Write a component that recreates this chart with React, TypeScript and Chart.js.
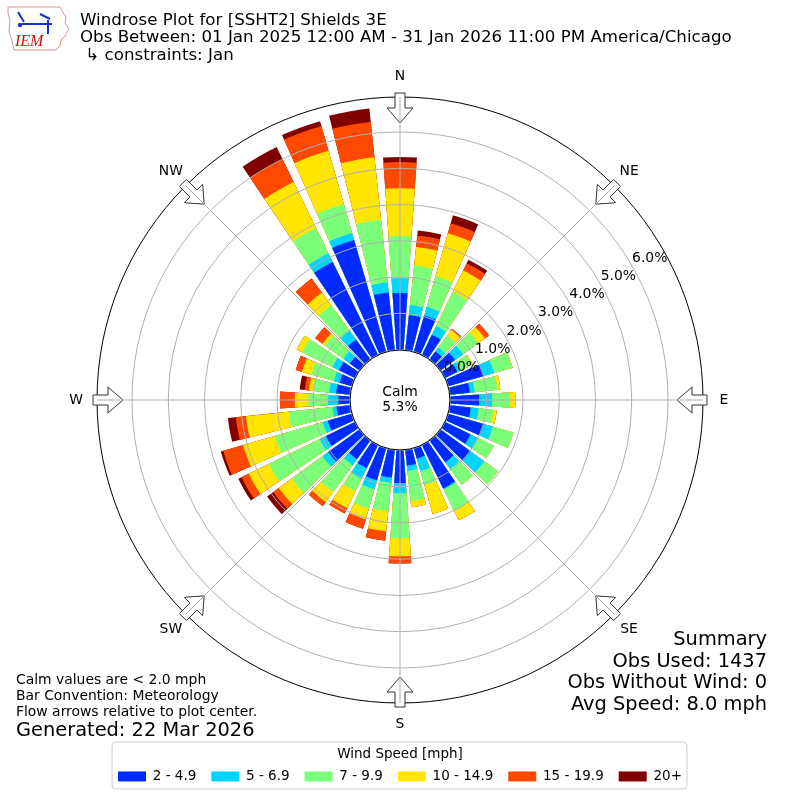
import React, { useEffect, useRef } from 'react';
import { Chart, registerables } from 'chart.js';

Chart.register(...registerables);

const FONT = '"DejaVu Sans", sans-serif';

// Direction of each bar (degrees, meteorological convention)
const directions = [0, 10, 20, 30, 40, 50, 60, 70, 80, 90, 100, 110, 120, 130, 140, 150, 160, 170,
  180, 190, 200, 210, 220, 230, 240, 250, 260, 270, 280, 290, 300, 310, 320, 330, 340, 350];

const speedBins = ['2 - 4.9', '5 - 6.9', '7 - 9.9', '10 - 14.9', '15 - 19.9', '20+'];
const binColors = ['#002aff', '#00d4ff', '#7bff7b', '#ffe500', '#ff4900', '#800000'];

// Percent of observations per direction, per speed bin
const pct2to5 = [1.56, 0.96, 1.03, 0.61, 0.26, 0.48, 0.37, 1.01, 0.54, 0.79, 0.57, 1.01, 0.77, 1.01, 0.73, 1.32, 0.29, 0.43,
  0.90, 0.76, 0.91, 0.70, 0.63, 1.05, 0.88, 0.68, 0.37, 0.31, 0.38, 0.34, 0.48, 0.32, 0.67, 2.84, 3.20, 1.59];
const pct5to7 = [0.41, 0.28, 0.25, 0.27, 0.14, 0.28, 0.11, 0.30, 0.14, 0.36, 0.22, 0.26, 0.23, 0.47, 0.23, 0.03, 0.36, 0.14,
  0.28, 0.14, 0.26, 0.32, 0.20, 0.20, 0.19, 0.14, 0.11, 0.28, 0.19, 0.17, 0.20, 0.22, 0.30, 0.27, 0.20, 0.28];
const pct7to10 = [1.16, 1.10, 0.88, 1.05, 0.41, 0.52, 0.33, 0.52, 0.63, 0.50, 0.40, 0.59, 0.48, 0.47, 0.54, 0.65, 0.40, 0.84,
  1.24, 0.79, 0.55, 0.39, 0.91, 1.05, 1.56, 1.38, 1.21, 0.55, 0.45, 0.64, 0.93, 0.63, 0.87, 0.78, 0.83, 1.74];
const pct10to15 = [1.32, 0.51, 1.23, 0.65, 0.19, 0.22, 0.03, 0.01, 0.08, 0.14, 0.10, 0.00, 0.00, 0.00, 0.00, 0.30, 0.83, 0.17,
  0.50, 0.56, 0.31, 0.52, 0.35, 0.44, 0.62, 0.91, 1.19, 0.37, 0.11, 0.27, 0.17, 0.08, 0.43, 1.41, 1.53, 1.73];
const pct15to20 = [0.72, 0.32, 0.29, 0.22, 0.04, 0.14, 0.00, 0.00, 0.00, 0.00, 0.00, 0.00, 0.00, 0.00, 0.00, 0.00, 0.00, 0.00,
  0.19, 0.26, 0.27, 0.16, 0.14, 0.19, 0.22, 0.57, 0.28, 0.41, 0.12, 0.18, 0.00, 0.25, 0.48, 0.70, 0.71, 0.98];
const pct20plus = [0.14, 0.14, 0.23, 0.11, 0.00, 0.00, 0.00, 0.00, 0.00, 0.00, 0.00, 0.00, 0.00, 0.00, 0.00, 0.00, 0.00, 0.00,
  0.01, 0.00, 0.00, 0.00, 0.00, 0.21, 0.10, 0.07, 0.22, 0.00, 0.14, 0.00, 0.00, 0.00, 0.00, 0.37, 0.14, 0.37];

const binValues = [pct2to5, pct5to7, pct7to10, pct10to15, pct15to20, pct20plus];

const radialTicks = [0, 1, 2, 3, 4, 5, 6];
const compassLabels = ['N', 'NE', 'E', 'SE', 'S', 'SW', 'W', 'NW'];
const calmPercent = 5.3;

const titleLines = [
  'Windrose Plot for [SSHT2] Shields 3E',
  'Obs Between: 01 Jan 2025 12:00 AM - 31 Jan 2026 11:00 PM America/Chicago',
  ' \u21b3 constraints: Jan',
];
const footLines = ['Calm values are < 2.0 mph', 'Bar Convention: Meteorology', 'Flow arrows relative to plot center.'];
const generatedText = 'Generated: 22 Mar 2026';
const summaryLines = ['Summary', 'Obs Used: 1437', 'Obs Without Wind: 0', 'Avg Speed: 8.0 mph'];

const BAR_ANGLE = 8;
const GAP_ANGLE = 2;
const R_MIN = -1.393;
const R_MAX = 6.966;

const decorPlugin = {
  id: 'windroseDecor',
  afterDraw(chart: any) {
    const ctx = chart.ctx as CanvasRenderingContext2D;
    const s = chart.scales.r;
    const cx = s.xCenter;
    const cy = s.yCenter;
    const R = s.drawingArea;
    const rad = (d: number) => (d * Math.PI) / 180;
    ctx.save();

    // flow arrows
    for (let i = 0; i < 8; i++) {
      const th = rad(i * 45);
      const ux = Math.sin(th), uy = -Math.cos(th);
      const px = Math.cos(th), py = Math.sin(th);
      const pt = (r: number, w: number) => [cx + ux * r + px * w, cy + uy * r + py * w];
      const r1 = R + 4, r2 = R - 11, r3 = R - 26;
      const pts = [pt(r1, 5), pt(r2, 5), pt(r2, 13), pt(r3, 0), pt(r2, -13), pt(r2, -5), pt(r1, -5)];
      ctx.beginPath();
      pts.forEach((p, k) => (k === 0 ? ctx.moveTo(p[0], p[1]) : ctx.lineTo(p[0], p[1])));
      ctx.closePath();
      ctx.fillStyle = '#ffffff';
      ctx.fill();
      ctx.strokeStyle = '#333333';
      ctx.lineWidth = 1;
      ctx.stroke();
    }

    // spokes
    ctx.strokeStyle = '#b0b0b0';
    ctx.lineWidth = 1;
    for (let i = 0; i < 8; i++) {
      const th = rad(i * 45);
      ctx.beginPath();
      ctx.moveTo(cx, cy);
      ctx.lineTo(cx + Math.sin(th) * R, cy - Math.cos(th) * R);
      ctx.stroke();
    }

    // calm circle
    const r0 = s.getDistanceFromCenterForValue(0) - 0.5;
    ctx.beginPath();
    ctx.arc(cx, cy, r0, 0, Math.PI * 2);
    ctx.fillStyle = '#ffffff';
    ctx.fill();
    ctx.strokeStyle = '#000000';
    ctx.lineWidth = 1;
    ctx.stroke();
    ctx.fillStyle = '#000000';
    ctx.font = `13.9px ${FONT}`;
    ctx.textAlign = 'center';
    ctx.textBaseline = 'middle';
    ctx.fillText('Calm', cx, cy - 8);
    ctx.fillText(`${calmPercent.toFixed(1)}%`, cx, cy + 7.5);

    // radial tick labels
    ctx.textAlign = 'left';
    const la = rad(60);
    radialTicks.forEach((v) => {
      const r = s.getDistanceFromCenterForValue(v);
      const x = cx + Math.sin(la) * r;
      const y = cy - Math.cos(la) * r;
      ctx.fillText(`${v.toFixed(1)}%`, x, y - 7.5);
    });

    // compass labels
    ctx.textAlign = 'center';
    compassLabels.forEach((lab, i) => {
      const th = rad(i * 45);
      const r = R + 21;
      ctx.fillText(lab, cx + Math.sin(th) * r, cy - Math.cos(th) * r);
    });

    // title
    ctx.textAlign = 'left';
    ctx.font = `16.67px ${FONT}`;
    titleLines.forEach((t, i) => ctx.fillText(t, 80, 20.5 + i * 17.5));

    // footnotes
    ctx.font = `13.9px ${FONT}`;
    footLines.forEach((t, i) => ctx.fillText(t, 16, 680 + i * 16));
    ctx.font = `19.4px ${FONT}`;
    ctx.fillText(generatedText, 16, 731);

    // summary
    ctx.textAlign = 'right';
    summaryLines.forEach((t, i) => ctx.fillText(t, 767, 640 + i * 21.7));

    // logo
    ctx.beginPath();
    const iowa = [[8, 7], [60, 7], [62, 11], [66, 17], [65, 23], [69, 29], [65, 36], [61, 40], [60, 46], [56, 50], [14, 50], [12, 41], [9, 31], [10, 21], [8, 13]];
    iowa.forEach((p, k) => (k === 0 ? ctx.moveTo(p[0], p[1]) : ctx.lineTo(p[0], p[1])));
    ctx.closePath();
    ctx.strokeStyle = '#e09090';
    ctx.lineWidth = 1;
    ctx.stroke();
    ctx.strokeStyle = '#1a2fd0';
    ctx.lineWidth = 2;
    ctx.beginPath();
    ctx.moveTo(22, 24); ctx.lineTo(52, 24);
    ctx.moveTo(18, 12); ctx.lineTo(24, 22);
    ctx.moveTo(48, 20); ctx.lineTo(48, 34);
    ctx.moveTo(40, 14); ctx.lineTo(50, 19);
    ctx.stroke();
    ctx.fillStyle = '#1a2fd0';
    ctx.beginPath();
    ctx.arc(20, 25, 2.2, 0, Math.PI * 2);
    ctx.fill();
    ctx.fillStyle = '#d01010';
    ctx.font = `italic 16px "Liberation Serif", serif`;
    ctx.textAlign = 'left';
    ctx.textBaseline = 'alphabetic';
    ctx.fillText('IEM', 15, 46);

    // legend frame
    const lg = chart.legend;
    if (lg && lg.lineWidths) {
      const pad = 15;
      const lw = lg.lineWidths[0];
      const x0 = (lg.left + pad + lg.right - lw) / 2;
      const x1 = x0 + lw - pad;
      const T = lg.top + 39;
      const B = lg.top + 86;
      const L = x0 - 6, Rr = x1 + 5;
      ctx.beginPath();
      ctx.roundRect(L, T, Rr - L, B - T, 4);
      ctx.strokeStyle = '#cccccc';
      ctx.lineWidth = 1;
      ctx.stroke();
    }
    ctx.restore();
  },
};

export default function App() {
  const canvasRef = useRef<HTMLCanvasElement | null>(null);

  useEffect(() => {
    if (!canvasRef.current) return;
    const labels: string[] = [];
    directions.forEach((d) => {
      labels.push(`${d}\u00b0`);
      labels.push('');
    });
    const cumulative = binValues.map((_, k) =>
      directions.map((__, i) => binValues.slice(0, k + 1).reduce((acc, arr) => acc + arr[i], 0))
    );
    const datasets = speedBins.map((name, k) => ({
      label: name,
      data: directions.flatMap((_, i) => [cumulative[k][i], 0]),
      backgroundColor: (c: any) => (c.dataIndex % 2 === 0 ? binColors[k] : 'rgba(0,0,0,0)'),
      borderWidth: 0,
      angle: (c: any) => (c.dataIndex % 2 === 0 ? BAR_ANGLE : GAP_ANGLE),
    }));

    const chart = new Chart(canvasRef.current, {
      type: 'polarArea',
      data: { labels, datasets },
      options: {
        responsive: false,
        maintainAspectRatio: false,
        animation: false,
        events: [],
        layout: { padding: { top: 97, bottom: 12, left: 20, right: 20 } },
        scales: {
          r: {
            min: R_MIN,
            max: R_MAX,
            startAngle: -BAR_ANGLE / 2,
            ticks: { display: false, stepSize: 1 },
            grid: {
              circular: true,
              z: 1,
              lineWidth: 1,
              color: (c: any) => {
                const v = c.tick ? c.tick.value : NaN;
                if (Math.abs(v - R_MAX) < 1e-6) return '#000000';
                if (v >= 0 && Math.abs(v - Math.round(v)) < 1e-9) return '#b0b0b0';
                return 'rgba(0,0,0,0)';
              },
            },
            angleLines: { display: false },
            pointLabels: { display: false },
          },
        },
        plugins: {
          tooltip: { enabled: false },
          legend: {
            display: true,
            position: 'bottom',
            maxHeight: 85,
            onClick: () => {},
            title: {
              display: true,
              text: 'Wind Speed [mph]',
              color: '#000000',
              font: { family: FONT, size: 13.5 },
              padding: { top: 44.5, bottom: -9 },
            },
            labels: {
              boxWidth: 28,
              boxHeight: 10,
              padding: 15,
              color: '#000000',
              font: { family: FONT, size: 13.5 },
              generateLabels: () =>
                speedBins.map((name, i) => ({
                  text: name,
                  fillStyle: binColors[i],
                  strokeStyle: binColors[i],
                  lineWidth: 0,
                  hidden: false,
                  datasetIndex: i,
                })),
            },
          },
        },
      } as any,
      plugins: [decorPlugin],
    });
    return () => chart.destroy();
  }, []);

  return (
    <div style={{ position: 'absolute', left: 0, top: 0, width: 800, height: 800, background: '#ffffff' }}>
      <canvas ref={canvasRef} width={800} height={800} style={{ display: 'block', width: 800, height: 800 }} />
    </div>
  );
}
